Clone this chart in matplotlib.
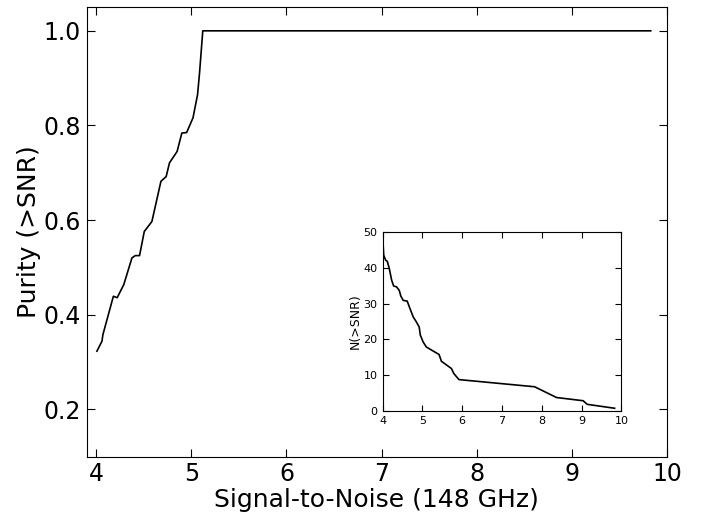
import matplotlib
matplotlib.use("Agg")
import matplotlib.pyplot as plt

# purity vs SNR threshold
snr_pur = [4.007, 4.06, 4.07, 4.18, 4.22, 4.29, 4.375, 4.41, 4.455, 4.505, 4.585,
           4.68, 4.735, 4.77, 4.85, 4.90, 4.95, 5.017, 5.065, 5.086, 5.12, 9.83]
purity = [0.323, 0.344, 0.358, 0.439, 0.436, 0.464, 0.520, 0.525, 0.525, 0.576, 0.597,
          0.682, 0.692, 0.721, 0.745, 0.784, 0.785, 0.816, 0.865, 0.911, 1.0, 1.0]

# cumulative counts (inset)
snr_n = [4.005, 4.017, 4.03, 4.08, 4.12, 4.17, 4.23, 4.28, 4.35, 4.42, 4.46, 4.52, 4.62,
         4.69, 4.77, 4.85, 4.92, 4.95, 5.02, 5.10, 5.42, 5.48, 5.73, 5.79, 5.92,
         7.82, 8.37, 9.04, 9.14, 9.83]
n_gt = [47.5, 46.1, 43.5, 42.1, 41.8, 39.8, 36.5, 34.9, 34.7, 33.7, 32.1, 30.9, 30.7,
        28.6, 26.3, 24.9, 23.5, 21.2, 19.3, 17.9, 15.8, 13.9, 11.9, 10.5, 8.8,
        6.8, 3.8, 2.9, 1.9, 0.8]

fig = plt.figure(figsize=(7.11, 5.12), dpi=100)
ax = fig.add_axes([0.122, 0.108, 0.816, 0.878])
ax.plot(snr_pur, purity, color="black", lw=1.2)
ax.set_xlim(3.9, 10)
ax.set_ylim(0.1, 1.05)
ax.set_xticks([4, 5, 6, 7, 8, 9, 10])
ax.set_yticks([0.2, 0.4, 0.6, 0.8, 1.0])
ax.tick_params(direction="in", top=True, right=True, labelsize=17, length=6, pad=4)
ax.set_xlabel("Signal-to-Noise (148 GHz)", fontsize=18, labelpad=1)
ax.set_ylabel("Purity (>SNR)", fontsize=18, labelpad=2)

ins = fig.add_axes([0.538, 0.197, 0.336, 0.350])
ins.plot(snr_n, n_gt, color="black", lw=1.2)
ins.set_xlim(4, 10)
ins.set_ylim(0, 50)
ins.set_xticks([4, 5, 6, 7, 8, 9, 10])
ins.set_yticks([0, 10, 20, 30, 40, 50])
ins.tick_params(direction="in", top=True, right=True, labelsize=8, length=4)
ins.set_ylabel("N(>SNR)", fontsize=9, labelpad=1)

fig.savefig("out.png", dpi=100)
